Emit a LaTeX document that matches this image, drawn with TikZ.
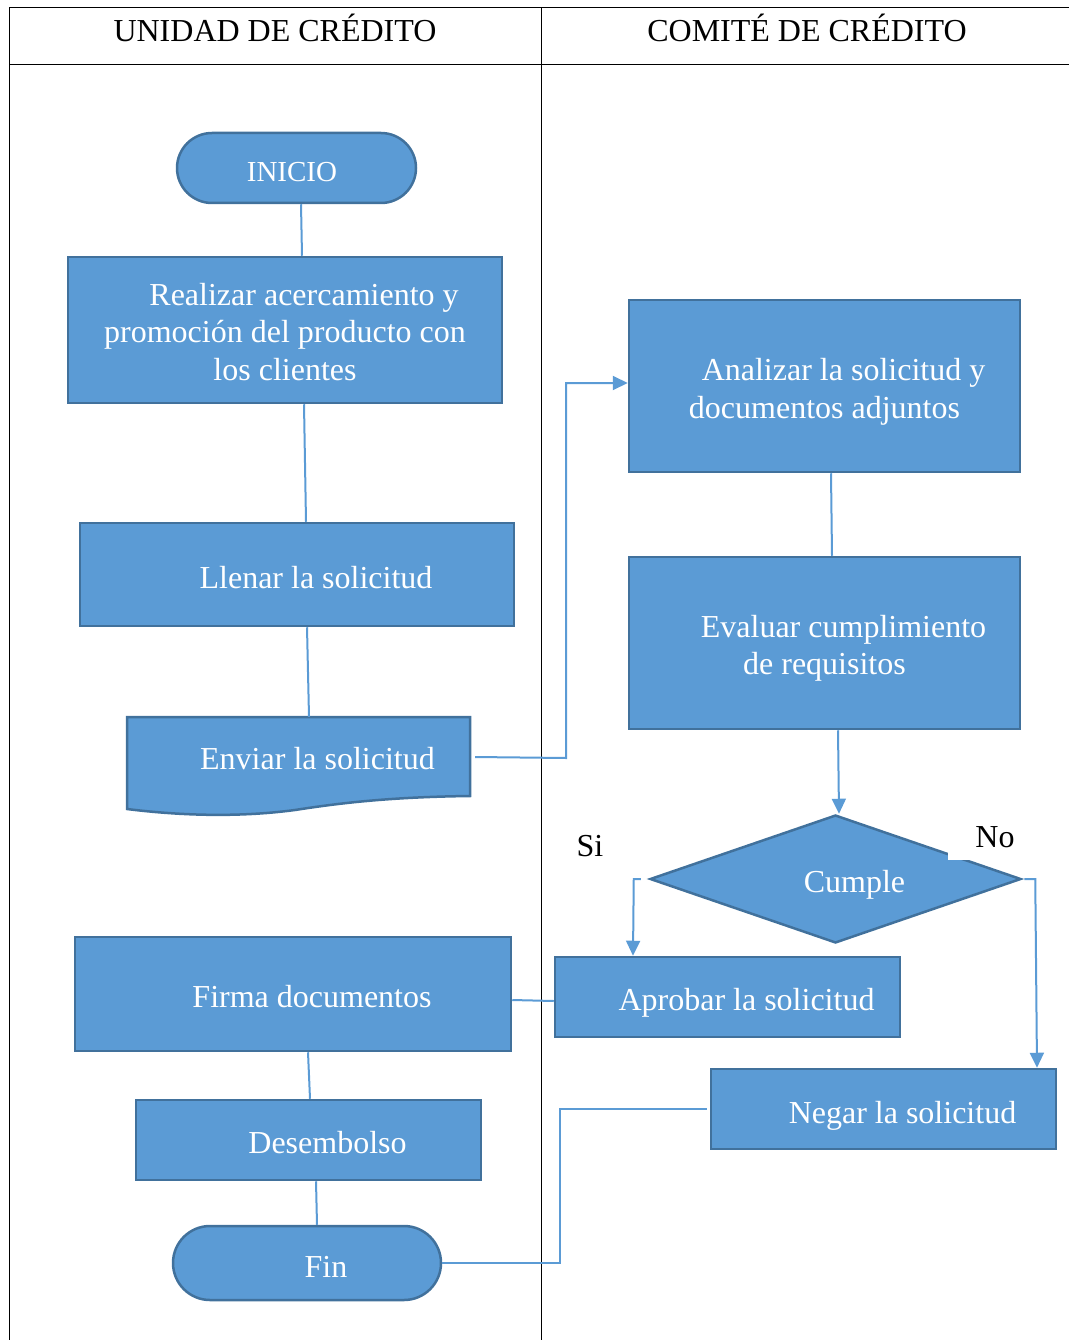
\documentclass[tikz,border=0pt]{standalone}
\usepackage{fontspec}
\setmainfont{Liberation Serif}
\usetikzlibrary{arrows.meta,shapes.geometric}
\definecolor{boxfill}{HTML}{5B9BD5}
\definecolor{boxedge}{HTML}{41719C}
\newcommand\diagfont{\fontsize{32}{37.5}\selectfont}
\newcommand\firstind{\hspace*{38pt}}
\begin{document}
\begin{tikzpicture}[x=1pt,y=-1pt,
  procbox/.style={draw=boxedge, fill=boxfill, line width=2.5pt, inner sep=0pt},
  termbox/.style={procbox, rounded corners=35pt},
  txt/.style={text=white, font=\diagfont, align=center, inner sep=0pt},
  plain/.style={font=\diagfont, text=black, inner sep=0pt},
  conn/.style={draw=boxfill, line width=2pt},
  arr/.style={conn, -{Triangle[length=15pt,width=14pt]}},
  tabline/.style={draw=black, line width=1pt}]
\useasboundingbox (0,0) rectangle (1069,1340);
% table
\draw[tabline] (9,8) -- (1069,8);
\draw[tabline] (9,65) -- (1069,65);
\draw[tabline] (9,8) -- (9,1340);
\draw[tabline] (541,8) -- (541,1340);
\node[plain] (hdrL) at (275,28) {UNIDAD DE CRÉDITO};
\node[plain] (hdrR) at (807,28) {COMITÉ DE CRÉDITO};
% left lane
\node[termbox, minimum width=239, minimum height=70,
  label={[txt,font=\fontsize{29}{34}\selectfont,xshift=-4.5pt,yshift=-4pt]center:INICIO}] (inicio) at (296.5,168) {};
\node[procbox, minimum width=434, minimum height=146,
  label={[txt,yshift=-2pt]center:{\firstind Realizar acercamiento y\\promoción del producto con\\los clientes}}] (real) at (285,330) {};
\node[procbox, minimum width=434, minimum height=103,
  label={[txt,yshift=-3pt]center:{\firstind Llenar la solicitud}}] (llenar) at (297,574.5) {};
\draw[draw=boxedge, fill=boxfill, line width=2.5pt] (127,717) -- (470,717) -- (470,796)
  .. controls (390,797) and (340,803) .. (295,810)
  .. controls (235,818) and (175,815) .. (127,809) -- cycle;
\node[inner sep=0pt, minimum width=343, minimum height=80,
  label={[txt,yshift=-2pt]center:{\firstind Enviar la solicitud}}] (env) at (298.5,757) {};
\node[procbox, minimum width=436, minimum height=114,
  label={[txt,yshift=-3pt]center:{\firstind Firma documentos}}] (firma) at (293,994) {};
\node[procbox, minimum width=345, minimum height=80,
  label={[txt,yshift=-3pt]center:{\firstind Desembolso}}] (desem) at (308.5,1140) {};
\node[termbox, minimum width=268, minimum height=74, rounded corners=37pt,
  label={[txt,yshift=-4pt]center:{\firstind Fin}}] (fin) at (307,1263) {};
% right lane
\node[procbox, minimum width=391, minimum height=172,
  label={[txt,yshift=-6pt]center:{\firstind Analizar la solicitud y\\documentos adjuntos}}] (ana) at (824.5,386) {};
\node[procbox, minimum width=391, minimum height=172,
  label={[txt,yshift=-5.5pt]center:{\firstind Evaluar cumplimiento\\de requisitos}}] (eva) at (824.5,643) {};
\node[procbox, shape=diamond, aspect=2.9, minimum width=371, minimum height=128,
  label={[txt,yshift=-6pt]center:{\firstind Cumple}}] (dia) at (835.5,879) {};
\node[procbox, minimum width=345, minimum height=80,
  label={[txt,yshift=-6pt]center:{\firstind Aprobar la solicitud}}] (apr) at (727.5,997) {};
\node[procbox, minimum width=345, minimum height=80,
  label={[txt,yshift=-7pt]center:{\firstind Negar la solicitud}}] (neg) at (883.5,1109) {};
\node[plain] (si) at (590,846) {Si};
\node[plain, fill=white, minimum width=94, minimum height=46] (no) at (995,837) {No};
% connectors
\draw[conn] ([xshift=4.5pt]inicio.south) -- ([xshift=17pt]real.north);
\draw[conn] ([xshift=19pt]real.south) -- ([xshift=9pt]llenar.north);
\draw[conn] ([xshift=10pt]llenar.south) -- ([xshift=10.5pt]env.north);
\draw[arr] ([xshift=5pt]env.east) -- ++(91,1) |- ([yshift=3pt]ana.west);
\draw[conn] ([xshift=6.5pt]ana.south) -- ([xshift=7.5pt]eva.north);
\draw[arr] ([xshift=13.5pt]eva.south) -- ([xshift=3.5pt]dia.north);
\draw[arr] ([xshift=-8pt]dia.west) -- ++(-7,0) -- ([xshift=-94.5pt]apr.north);
\draw[arr] ([xshift=2pt]dia.east) -- ++(11,0) -- ([xshift=153.5pt]neg.north);
\draw[conn] ([yshift=-6pt]firma.east) -- ([yshift=-4pt]apr.west);
\draw[conn] ([xshift=15pt]firma.south) -- ([xshift=1.5pt]desem.north);
\draw[conn] ([xshift=7.5pt]desem.south) -- ([xshift=10pt]fin.north);
\draw[conn] ([xshift=-3pt]neg.west) -- ++(-147,0) |- (fin.east);
\end{tikzpicture}
\end{document}
